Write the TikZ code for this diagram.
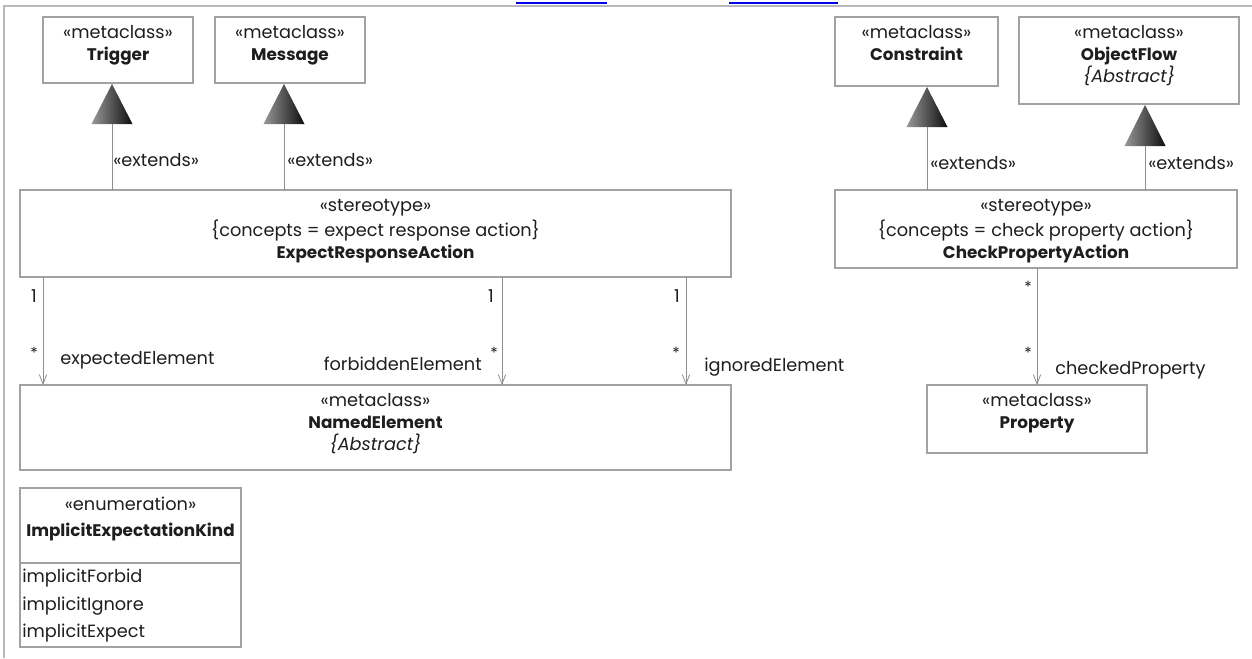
\documentclass[tikz,border=0pt]{standalone}
\usepackage{fontspec}
\setmainfont{Poppins}
\usetikzlibrary{arrows.meta,calc,fit}
\definecolor{linec}{HTML}{8E8E8E}
\definecolor{boxc}{HTML}{A2A2A2}
\definecolor{framec}{HTML}{B8B8B8}
\definecolor{txt}{HTML}{1E1E1E}
\definecolor{linkblue}{HTML}{0000EE}
\newcommand\nm[1]{{\fontsize{12.6}{16.5}\selectfont\bfseries #1}}
\tikzset{
  umlbox/.style={draw=boxc, line width=0.8pt, inner sep=0pt, outer sep=0pt},
  blk/.style={align=center, inner sep=0pt, anchor=north, text=txt, font=\fontsize{13.3}{16.5}\selectfont},
  lbl/.style={inner sep=0pt, text=txt, font=\fontsize{13.3}{15}\selectfont},
  star/.style={inner sep=0pt, text=txt, font=\fontsize{11.5}{12}\selectfont},
  conn/.style={draw=linec, line width=0.7pt},
  assoc/.style={draw=linec, line width=0.7pt, -{Straight Barb[length=7pt,width=5.5pt,line width=0.6pt]}},
  gen/.style={left color=black!40, right color=black!95, draw=none},
}
\begin{document}
\begin{tikzpicture}[x=0.75pt,y=-0.75pt]
\useasboundingbox (0,0) rectangle (1252,658);
% frame and links
\draw[framec, line width=1.1pt] (4,658) -- (4,6) -- (1252,6);
\draw[linkblue, line width=1.2pt] (516,3) -- (607,3);
\draw[linkblue, line width=1.2pt] (729,3) -- (838,3);

% ---------- left part ----------
\node[umlbox, fit={(43,17) (193,83)}] (trig) {};
\node[blk] (trig-t) at ($(trig.north)+(0,6)$) {\strut«metaclass»\\\nm{Trigger}};
\node[umlbox, fit={(215,17) (365,83)}] (msg) {};
\node[blk] (msg-t) at ($(msg.north)+(0,6)$) {\strut«metaclass»\\\nm{Message}};

\node[umlbox, fit={(20,190) (731,277)}] (era) {};
\node[blk] (era-t) at ($(era.north)+(0,6)$) {\strut«stereotype»\\\{concepts = expect response action\}\\\nm{ExpectResponseAction}};

\node[umlbox, fit={(20,385) (731,470)}] (ne) {};
\node[blk] (ne-t) at ($(ne.north)+(0,6)$) {\strut«metaclass»\\\nm{NamedElement}\\\textit{\{Abstract\}}};

% generalizations
\coordinate (g1) at (112,84);
\coordinate (g2) at (284,84);
\shade[gen] (g1) -- ++(-20.5,40) -- ++(41,0) -- cycle;
\shade[gen] (g2) -- ++(-20.5,40) -- ++(41,0) -- cycle;
\draw[conn] ($(g1)+(0,40)$) -- (g1 |- era.north);
\draw[conn] ($(g2)+(0,40)$) -- (g2 |- era.north);
\node[lbl, anchor=west] (ext1) at (113,160) {«extends»};
\node[lbl, anchor=west] (ext2) at (287,160) {«extends»};

% associations
\coordinate (c1) at (43,0);
\coordinate (c2) at (502,0);
\coordinate (c3) at (686,0);
\draw[assoc] (c1 |- era.south) -- (c1 |- ne.north);
\draw[assoc] (c2 |- era.south) -- (c2 |- ne.north);
\draw[assoc] (c3 |- era.south) -- (c3 |- ne.north);
\node[lbl] (m1a) at (34,296) {1};
\node[lbl] (m2a) at (491,296) {1};
\node[lbl] (m3a) at (677,296) {1};
\node[star] (m1b) at (34,353) {*};
\node[star] (m2b) at (494,353) {*};
\node[star] (m3b) at (676,353) {*};
\node[lbl, anchor=west] (r1) at (60,360) {expectedElement};
\node[lbl, anchor=east] (r2) at (482,364) {forbiddenElement};
\node[lbl, anchor=west] (r3) at (704,367) {ignoredElement};

% enumeration
\node[umlbox, fit={(20,488) (241,647)}] (enum) {};
\draw[draw=boxc, line width=0.8pt] (enum.west |- 0,563) -- (enum.east |- 0,563);
\node[blk] (enum-s) at (130.5,504) [anchor=center] {«enumeration»};
\node[blk] (enum-n) at (130.5,532) [anchor=center] {\nm{ImplicitExpectationKind}};
\node[lbl, anchor=west] (lit1) at (22,578) {implicitForbid};
\node[lbl, anchor=west] (lit2) at (22,606) {implicitIgnore};
\node[lbl, anchor=west] (lit3) at (22,633) {implicitExpect};

% ---------- right part ----------
\node[umlbox, fit={(835,17) (998,86)}] (con) {};
\node[blk] (con-t) at ($(con.north)+(0,6)$) {\strut«metaclass»\\\nm{Constraint}};
\node[umlbox, fit={(1019,17) (1239,104)}] (of) {};
\node[blk] (of-t) at ($(of.north)+(0,6)$) {\strut«metaclass»\\\nm{ObjectFlow}\\\textit{\{Abstract\}}};

\node[umlbox, fit={(835,190) (1237,268)}] (cpa) {};
\node[blk] (cpa-t) at ($(cpa.north)+(0,6)$) {\strut«stereotype»\\\{concepts = check property action\}\\\nm{CheckPropertyAction}};

\coordinate (g3) at (927,87);
\coordinate (g4) at (1145,105);
\shade[gen] (g3) -- ++(-20.5,40) -- ++(41,0) -- cycle;
\shade[gen] (g4) -- ++(-20.5,41) -- ++(41,0) -- cycle;
\draw[conn] ($(g3)+(0,40)$) -- (g3 |- cpa.north);
\draw[conn] ($(g4)+(0,41)$) -- (g4 |- cpa.north);
\node[lbl, anchor=west] (ext3) at (930,163) {«extends»};
\node[lbl, anchor=west] (ext4) at (1148,163) {«extends»};

\node[umlbox, fit={(927,385) (1147,453)}] (prop) {};
\node[blk] (prop-t) at ($(prop.north)+(0,6)$) {\strut«metaclass»\\\nm{Property}};

\coordinate (c4) at (1037,0);
\draw[assoc] (c4 |- cpa.south) -- (c4 |- prop.north);
\node[star] (m4a) at (1028,287) {*};
\node[star] (m4b) at (1028,353) {*};
\node[lbl, anchor=west] (r4) at (1055,370) {checkedProperty};
\end{tikzpicture}
\end{document}
